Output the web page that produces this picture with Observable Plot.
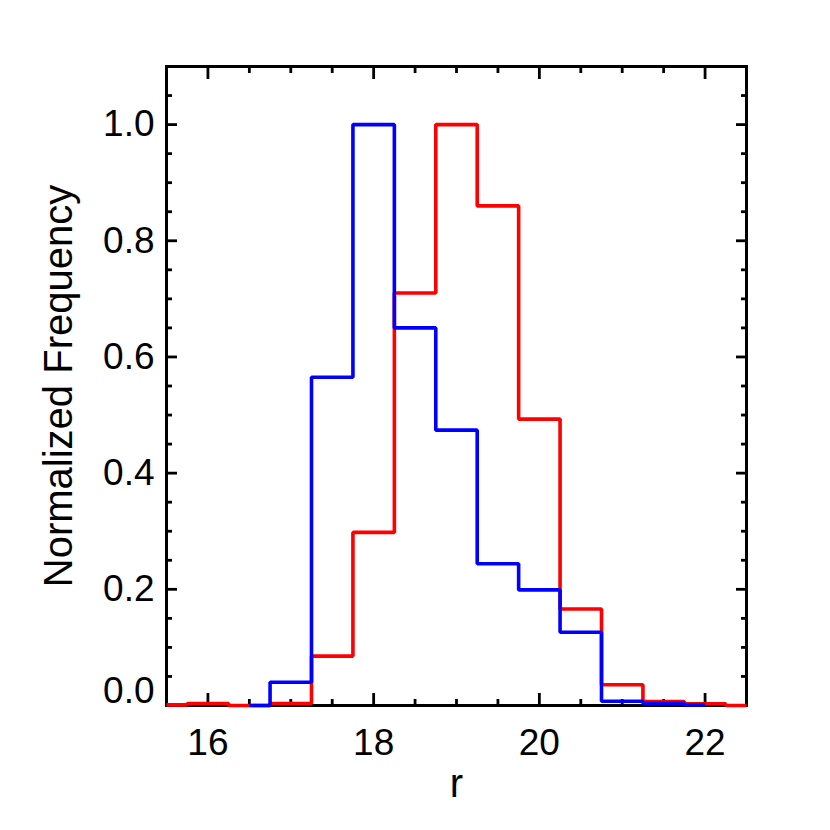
<!DOCTYPE html>
<html>
<head>
<meta charset="utf-8">
<script src="https://cdn.jsdelivr.net/npm/d3@7"></script>
<script src="https://cdn.jsdelivr.net/npm/@observablehq/plot@0.6"></script>
<style>
  html, body { margin: 0; padding: 0; background: #fff; }
</style>
</head>
<body>
<div id="chart"></div>
<script>
// Histogram bin centers (bin width 0.5) and normalized frequencies
const redCenters  = [15.5, 16.0, 16.5, 17.0, 17.5, 18.0, 18.5, 19.0, 19.5, 20.0, 20.5, 21.0, 21.5, 22.0, 22.5];
const redValues   = [0.001, 0.0034, 0.0, 0.0034, 0.085, 0.298, 0.71, 1.0, 0.86, 0.493, 0.166, 0.0356, 0.0069, 0.003, 0.0];
const blueCenters = [16.5, 17.0, 17.5, 18.0, 18.5, 19.0, 19.5, 20.0, 20.5, 21.0, 21.5, 22.0];
const blueValues  = [0.0, 0.040, 0.565, 1.0, 0.65, 0.474, 0.244, 0.199, 0.126, 0.0074, 0.004, 0.001];

// Tick values
const xMajorTicks = [16, 18, 20, 22];
const xMinorTicks = [16.5, 17, 17.5, 18.5, 19, 19.5, 20.5, 21, 21.5];
const yMajorTicks = [0.0, 0.2, 0.4, 0.6, 0.8, 1.0];
const yMinorTicks = [0.05, 0.1, 0.15, 0.25, 0.3, 0.35, 0.45, 0.5, 0.55, 0.65, 0.7, 0.75, 0.85, 0.9, 0.95, 1.05];
const yLabelTicks = [0.2, 0.4, 0.6, 0.8, 1.0];
const yZeroTick = [0.0];

const xLabel = "r";
const yLabel = "Normalized Frequency";

const redData = redCenters.map((x, i) => ({x, y: redValues[i]}));
const blueData = blueCenters.map((x, i) => ({x, y: blueValues[i]}));

const font = "'Liberation Sans', Arial, Helvetica, sans-serif";
const tickW = 2.8;

const tickMarks = [];
for (const anchor of ["bottom", "top"]) {
  tickMarks.push(Plot.axisX(xMajorTicks, {anchor, tickSize: -12, text: null, label: null, strokeWidth: tickW}));
  tickMarks.push(Plot.axisX(xMinorTicks, {anchor, tickSize: -6, text: null, label: null, strokeWidth: tickW}));
}
for (const anchor of ["left", "right"]) {
  tickMarks.push(Plot.axisY(yMajorTicks, {anchor, tickSize: -11, text: null, label: null, strokeWidth: tickW}));
  tickMarks.push(Plot.axisY(yMinorTicks, {anchor, tickSize: -6, text: null, label: null, strokeWidth: tickW}));
}

const chart = Plot.plot({
  width: 830,
  height: 830,
  marginLeft: 166,
  marginRight: 84,
  marginTop: 66,
  marginBottom: 125,
  style: {fontFamily: font, background: "#fff", color: "#000"},
  x: {domain: [15.5, 22.5]},
  y: {domain: [0, 1.1]},
  marks: [
    Plot.frame({stroke: "#000", strokeWidth: 3}),
    ...tickMarks,
    // tick labels
    Plot.axisX(xMajorTicks, {anchor: "bottom", tickSize: 0, tickPadding: 23, fontSize: 37, label: null, tickFormat: d => String(d)}),
    Plot.axisY(yLabelTicks, {anchor: "left", tickSize: 0, tickPadding: 12, fontSize: 37, label: null, tickFormat: d => d.toFixed(1)}),
    Plot.axisY(yZeroTick, {anchor: "left", tickSize: 0, tickPadding: 12, fontSize: 37, label: null, dy: -14, tickFormat: d => d.toFixed(1)}),
    // axis titles
    Plot.text([xLabel], {frameAnchor: "bottom", text: d => d, fontSize: 40, lineAnchor: "bottom", dy: 91}),
    Plot.text([yLabel], {frameAnchor: "left", text: d => d, fontSize: 40, rotate: -90, lineAnchor: "bottom", textAnchor: "middle", dx: -95}),
    // histograms
    Plot.line(redData, {x: "x", y: "y", curve: "step", stroke: "#ff0000", strokeWidth: 3.6, strokeLinejoin: "miter", strokeLinecap: "butt"}),
    Plot.line(blueData, {x: "x", y: "y", curve: "step", stroke: "#0000ff", strokeWidth: 3.6, strokeLinejoin: "miter", strokeLinecap: "butt"})
  ]
});

document.getElementById("chart").appendChild(chart);
</script>
</body>
</html>
